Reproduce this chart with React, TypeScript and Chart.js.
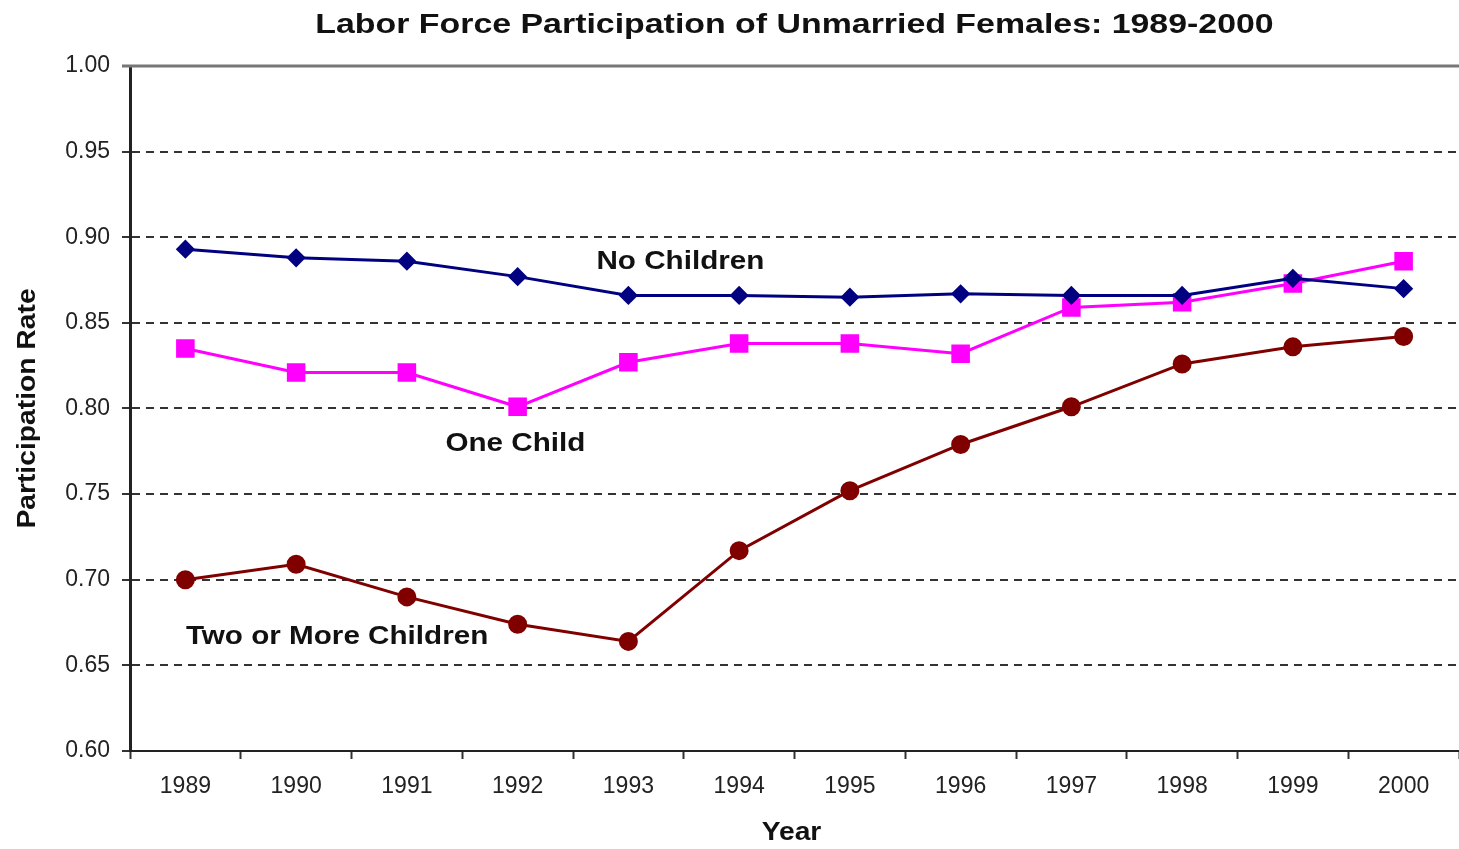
import React, { useEffect, useRef } from "react";
import { Chart, registerables } from "chart.js";

Chart.register(...registerables);

const years = ["1989", "1990", "1991", "1992", "1993", "1994", "1995", "1996", "1997", "1998", "1999", "2000"];
const noChildren = [0.893, 0.888, 0.886, 0.877, 0.866, 0.866, 0.865, 0.867, 0.866, 0.866, 0.876, 0.870];
const oneChild = [0.835, 0.821, 0.821, 0.801, 0.827, 0.838, 0.838, 0.832, 0.859, 0.862, 0.873, 0.886];
const twoOrMore = [0.700, 0.709, 0.690, 0.674, 0.664, 0.717, 0.752, 0.779, 0.801, 0.826, 0.836, 0.842];

const seriesNames = ["No Children", "One Child", "Two or More Children"];
// label anchors in data units (category index, rate)
const labelIndex = [4.47, 2.98, 1.37];
const labelValue = [0.8855, 0.7795, 0.6665];

const titleText = "Labor Force Participation of Unmarried Females: 1989-2000";
const xTitle = "Year";
const yTitle = "Participation Rate";
const FONT = "'Liberation Sans', Arial, Helvetica, sans-serif";

function stretchedText(ctx: CanvasRenderingContext2D, text: string, x: number, y: number, sx: number, rot = 0) {
  ctx.save();
  ctx.translate(x, y);
  if (rot) ctx.rotate(rot);
  ctx.scale(sx, 1);
  ctx.fillText(text, 0, 0);
  ctx.restore();
}

export default function App() {
  const ref = useRef<HTMLCanvasElement>(null);
  useEffect(() => {
    document.body.style.margin = "0";
    const canvas = ref.current!;
    const overlay = {
      id: "overlay",
      afterDraw(chart: any) {
        const { ctx, chartArea, scales } = chart;
        const x = scales.x;
        const y = scales.y;
        ctx.save();
        // top frame line
        ctx.strokeStyle = "#777";
        ctx.lineWidth = 3;
        ctx.beginPath();
        ctx.moveTo(chartArea.left - 8, y.getPixelForValue(1.0));
        ctx.lineTo(chartArea.right, y.getPixelForValue(1.0));
        ctx.stroke();
        ctx.fillStyle = "#111";
        ctx.textAlign = "center";
        ctx.textBaseline = "middle";
        const cx = (chartArea.left + chartArea.right) / 2;
        // title
        ctx.font = `bold 28px ${FONT}`;
        stretchedText(ctx, titleText, cx, 25, 1.21);
        // axis titles
        ctx.font = `bold 25px ${FONT}`;
        stretchedText(ctx, xTitle, cx - 3, 833, 1.13);
        stretchedText(ctx, yTitle, 28, (chartArea.top + chartArea.bottom) / 2, 1.13, -Math.PI / 2);
        // series labels
        ctx.font = `bold 26px ${FONT}`;
        for (let i = 0; i < seriesNames.length; i++) {
          const px = x.getPixelForValue(labelIndex[i]);
          const py = y.getPixelForValue(labelValue[i]);
          stretchedText(ctx, seriesNames[i], px, py, 1.14);
        }
        ctx.restore();
      },
    };
    const chart = new Chart(canvas, {
      type: "line",
      data: {
        labels: years,
        datasets: [
          {
            label: seriesNames[0],
            data: noChildren,
            borderColor: "#000080",
            backgroundColor: "#000080",
            borderWidth: 3,
            pointStyle: "rectRot",
            pointRadius: 7.5,
            tension: 0,
          },
          {
            label: seriesNames[1],
            data: oneChild,
            borderColor: "#ff00ff",
            backgroundColor: "#ff00ff",
            borderWidth: 3,
            pointStyle: "rect",
            pointRadius: 11,
            tension: 0,
          },
          {
            label: seriesNames[2],
            data: twoOrMore,
            borderColor: "#800000",
            backgroundColor: "#800000",
            borderWidth: 3,
            pointStyle: "circle",
            pointRadius: 8,
            tension: 0,
          },
        ],
      },
      options: {
        animation: false,
        responsive: false,
        layout: { autoPadding: false, padding: { top: 66, right: 0, bottom: 0, left: 0 } },
        plugins: { legend: { display: false }, title: { display: false }, tooltip: { enabled: false } },
        scales: {
          x: {
            type: "category",
            offset: true,
            grid: { offset: true, drawOnChartArea: false, drawTicks: true, tickLength: 8, tickColor: "#333", tickWidth: 2 },
            border: { display: true, color: "#222", width: 2 },
            ticks: { color: "#222", font: { family: FONT, size: 23 }, padding: 14, maxRotation: 0 },
            title: { display: false },
            afterFit(scale: any) {
              scale.height = 98;
              scale.paddingLeft = 0;
              scale.paddingRight = 0;
            },
          },
          y: {
            min: 0.6,
            max: 1.0,
            ticks: { stepSize: 0.05, color: "#222", font: { family: FONT, size: 23 }, padding: 12, callback: (v: any) => Number(v).toFixed(2) },
            grid: { color: "#333", lineWidth: 2, tickLength: 8, tickColor: "#333", tickWidth: 2, drawTicks: true },
            border: { display: true, color: "#222", width: 3, dash: [8, 6] },
            title: { display: false },
            afterFit(scale: any) {
              scale.width = 130;
              scale.paddingTop = 0;
              scale.paddingBottom = 0;
            },
          },
        },
      },
      plugins: [overlay],
    });
    return () => chart.destroy();
  }, []);
  return <canvas ref={ref} width={1459} height={849} style={{ display: "block" }} />;
}
